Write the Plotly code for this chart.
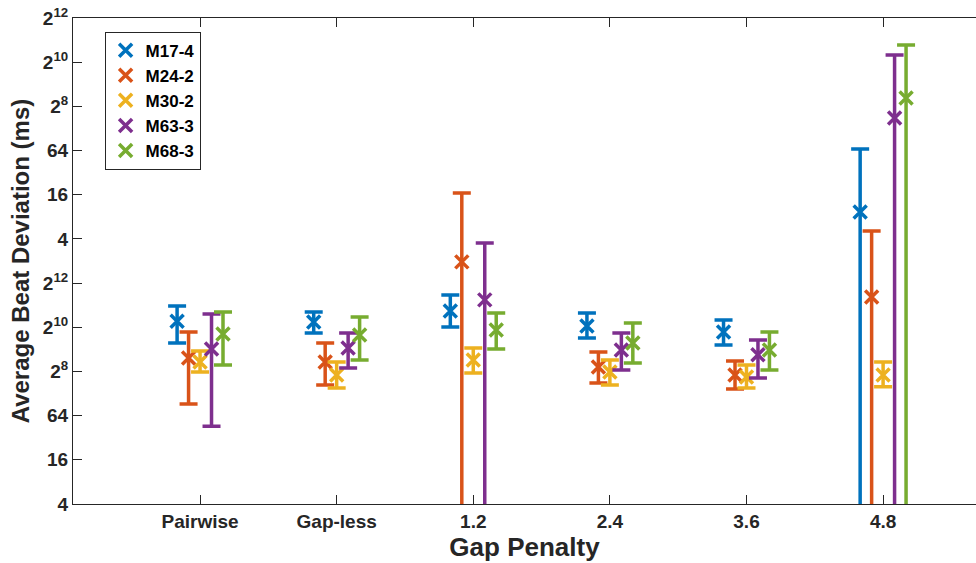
import plotly.graph_objects as go

# Gap-penalty settings along the x axis
categories = ["Pairwise", "Gap-less", "1.2", "2.4", "3.6", "4.8"]
series_names = ["M17-4", "M24-2", "M30-2", "M63-3", "M68-3"]
colors = ["#0072BD", "#D95319", "#EDB120", "#7E2F8E", "#77AC30"]

# Average beat deviation (ms): mean, upper end and lower end of each error bar
m17_mean = [1240, 1210, 1710, 1067, 885, 38170]
m17_high = [2000, 1650, 2817, 1607, 1287, 275000]
m17_low = [626, 855, 1031, 729, 588, 1]

m24_mean = [390, 345, 7970, 294, 229, 2647]
m24_high = [885, 626, 69300, 471, 355, 21020]
m24_low = [92, 168, 1, 178, 148, 1]

m30_mean = [345, 229, 367, 252, 215, 229]
m30_high = [488, 345, 534, 367, 313, 345]
m30_low = [252, 152, 244, 168, 152, 158]

m63_mean = [519, 534, 2419, 501, 431, 726000]
m63_high = [1552, 855, 14460, 855, 685, 5260000]
m63_low = [46, 286, 1, 269, 208, 1]

m68_mean = [832, 803, 942, 626, 501, 1360000]
m68_high = [1652, 1418, 1607, 1168, 885, 7200000]
m68_low = [313, 367, 519, 333, 269, 1]

means = [m17_mean, m24_mean, m30_mean, m63_mean, m68_mean]
highs = [m17_high, m24_high, m30_high, m63_high, m68_high]
lows = [m17_low, m24_low, m30_low, m63_low, m68_low]

# Y ticks at powers of two, labelled in two repeating blocks
ytick_exponents = [2, 4, 6, 8, 10, 12, 14, 16, 18, 20, 22, 24]
ytick_text = ["4", "16", "64", "2<sup>8</sup>", "2<sup>10</sup>", "2<sup>12</sup>",
              "4", "16", "64", "2<sup>8</sup>", "2<sup>10</sup>", "2<sup>12</sup>"]

FONT = "Liberation Sans, Arial, Helvetica, sans-serif"
AXIS_COLOR = "#262626"

group_offsets = [-0.168, -0.084, 0.0, 0.084, 0.168]

fig = go.Figure()
for name, color, off, mean, high, low in zip(series_names, colors, group_offsets, means, highs, lows):
    xs = [i + 1 + off for i in range(len(categories))]
    fig.add_trace(go.Scatter(
        x=xs, y=mean, name=name, mode="markers",
        marker=dict(symbol="x-thin", size=13, color=color,
                    line=dict(color=color, width=3.5)),
        error_y=dict(type="data", symmetric=False,
                     array=[h - m for h, m in zip(high, mean)],
                     arrayminus=[m - l for m, l in zip(mean, low)],
                     color=color, thickness=3.5, width=9),
    ))

ytick_vals = [2 ** e for e in ytick_exponents]
y_range = [0.60206, 7.22472]  # log10(4) .. log10(2**24)

fig.update_layout(
    width=976, height=563,
    margin=dict(l=73, r=0, t=18, b=59),
    paper_bgcolor="white", plot_bgcolor="white",
    font=dict(family=FONT, color=AXIS_COLOR),
    showlegend=True,
    legend=dict(
        x=0.035, y=0.972, xanchor="left", yanchor="top",
        bgcolor="white", bordercolor=AXIS_COLOR, borderwidth=1,
        font=dict(family=FONT, size=17, color="black", weight="bold"),
        itemwidth=30, tracegroupgap=0,
    ),
    xaxis=dict(
        range=[0.07, 6.68],
        tickmode="array", tickvals=list(range(1, len(categories) + 1)), ticktext=categories,
        ticks="inside", ticklen=9, tickwidth=1, tickcolor=AXIS_COLOR,
        showline=True, linecolor=AXIS_COLOR, linewidth=1, mirror="ticks",
        showgrid=False, zeroline=False,
        tickfont=dict(family=FONT, size=19, color=AXIS_COLOR, weight="bold"),
        title=dict(text="Gap Penalty", standoff=2,
                   font=dict(family=FONT, size=26, color=AXIS_COLOR, weight="bold")),
    ),
    yaxis=dict(
        type="log", range=y_range,
        tickmode="array", tickvals=ytick_vals, ticktext=ytick_text,
        ticks="inside", ticklen=9, tickwidth=1, tickcolor=AXIS_COLOR,
        showline=True, linecolor=AXIS_COLOR, linewidth=1, mirror=False,
        showgrid=False, zeroline=False,
        tickfont=dict(family=FONT, size=19, color=AXIS_COLOR, weight="bold"),
        title=dict(text="Average Beat Deviation (ms)", standoff=6,
                   font=dict(family=FONT, size=24, color=AXIS_COLOR, weight="bold")),
    ),
    yaxis2=dict(
        type="log", range=y_range, overlaying="y", side="right",
        tickmode="array", tickvals=ytick_vals, ticktext=[""] * len(ytick_vals),
        ticks="inside", ticklen=5, tickwidth=1, tickcolor=AXIS_COLOR,
        showline=False, showgrid=False, zeroline=False, showticklabels=False,
    ),
)

fig.write_html("out.html")
